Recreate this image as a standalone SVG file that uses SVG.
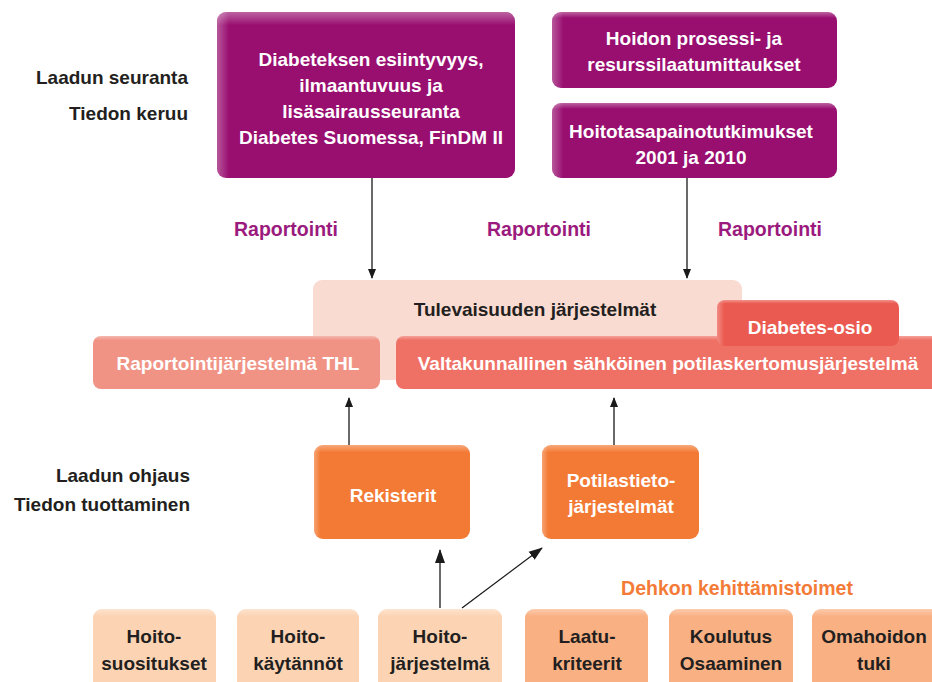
<svg xmlns="http://www.w3.org/2000/svg" width="932" height="682" viewBox="0 0 932 682">
<defs>
<linearGradient id="glossV" x1="0" y1="0" x2="0" y2="1">
<stop offset="0" stop-color="#fff" stop-opacity="0.35"/>
<stop offset="0.08" stop-color="#fff" stop-opacity="0"/>
<stop offset="1" stop-color="#fff" stop-opacity="0"/>
</linearGradient>
<linearGradient id="glossH" x1="0" y1="0" x2="1" y2="0">
<stop offset="0" stop-color="#fff" stop-opacity="0.3"/>
<stop offset="0.04" stop-color="#fff" stop-opacity="0"/>
<stop offset="1" stop-color="#fff" stop-opacity="0"/>
</linearGradient>
<marker id="ah" markerWidth="10" markerHeight="10" refX="9" refY="5" orient="auto" markerUnits="userSpaceOnUse" viewBox="0 0 10 10">
<path d="M0,1 L10,5 L0,9 Z" fill="#1a1a1a"/>
</marker>
<marker id="ah2" markerWidth="14" markerHeight="14" refX="13" refY="7" orient="auto" markerUnits="userSpaceOnUse" viewBox="0 0 14 14">
<path d="M0,2 L14,7 L0,12 Z" fill="#1a1a1a"/>
</marker>
</defs>
<style>
text{font-family:"Liberation Sans",Arial,sans-serif;font-weight:bold;}
.w{fill:#fff;font-size:19px;text-anchor:middle;}
.d{fill:#231f20;font-size:19px;text-anchor:middle;}
.lab{fill:#231f20;font-size:19px;text-anchor:end;}
.rap{fill:#9b1a7d;font-size:19.5px;text-anchor:middle;}
.purple{fill:#990f70;}
.org{fill:#f37a35;}
.lp{fill:#fcd4b4;}
.dp{fill:#f9b083;}
.conn line{stroke:#1a1a1a;stroke-width:1.3;}
</style>

<g id="labels">
<text class="lab" x="188" y="84">Laadun seuranta</text>
<text class="lab" x="188" y="120">Tiedon keruu</text>
<text class="lab" x="190" y="482">Laadun ohjaus</text>
<text class="lab" x="190" y="511">Tiedon tuottaminen</text>
<text class="rap" x="286" y="236">Raportointi</text>
<text class="rap" x="539" y="236">Raportointi</text>
<text class="rap" x="770" y="236">Raportointi</text>
<text x="737" y="595" style="fill:#f47b37;font-size:19.5px;text-anchor:middle">Dehkon kehittämistoimet</text>
</g>

<g id="esiintyvyys">
<rect class="purple" x="217" y="12" width="298" height="166" rx="9"/>
<rect x="217" y="12" width="298" height="166" rx="9" fill="url(#glossV)"/>
<rect x="217" y="12" width="298" height="166" rx="9" fill="url(#glossH)"/>
<text class="w" x="371" y="66">Diabeteksen esiintyvyys,</text>
<text class="w" x="371" y="92">ilmaantuvuus ja</text>
<text class="w" x="371" y="118">lisäsairausseuranta</text>
<text class="w" x="371" y="144">Diabetes Suomessa, FinDM II</text>
</g>

<g id="prosessi">
<rect class="purple" x="552" y="12" width="285" height="76" rx="9"/>
<rect x="552" y="12" width="285" height="76" rx="9" fill="url(#glossV)"/>
<rect x="552" y="12" width="285" height="76" rx="9" fill="url(#glossH)"/>
<text class="w" x="694" y="45">Hoidon prosessi- ja</text>
<text class="w" x="694" y="71">resurssilaatumittaukset</text>
</g>

<g id="hoitotasapaino">
<rect class="purple" x="552" y="103" width="285" height="75" rx="9"/>
<rect x="552" y="103" width="285" height="75" rx="9" fill="url(#glossV)"/>
<rect x="552" y="103" width="285" height="75" rx="9" fill="url(#glossH)"/>
<text class="w" x="691" y="138">Hoitotasapainotutkimukset</text>
<text class="w" x="691" y="164">2001 ja 2010</text>
</g>

<g id="tulevaisuus">
<rect x="313" y="280" width="429" height="100" rx="9" fill="#fadbd2"/>
<text class="d" x="535" y="316">Tulevaisuuden järjestelmät</text>
</g>

<g id="thl">
<rect x="93" y="336" width="287" height="53" rx="8" fill="#f09385"/>
<rect x="93" y="336" width="287" height="53" rx="8" fill="url(#glossV)"/>
<text class="w" x="238" y="370">Raportointijärjestelmä THL</text>
</g>

<g id="valtakunnallinen">
<rect x="396" y="336" width="546" height="53" rx="8" fill="#ef7166"/>
<rect x="396" y="336" width="546" height="53" rx="8" fill="url(#glossV)"/>
<text class="w" x="668" y="370">Valtakunnallinen sähköinen potilaskertomusjärjestelmä</text>
</g>

<g id="diabetesosio">
<rect x="717" y="300" width="182" height="46" rx="8" fill="#eb5a50"/>
<rect x="717" y="300" width="182" height="46" rx="8" fill="url(#glossV)"/>
<rect x="717" y="300" width="182" height="46" rx="8" fill="url(#glossH)"/>
<text class="w" x="810" y="334">Diabetes-osio</text>
</g>

<g id="rekisterit">
<rect class="org" x="314" y="445" width="156" height="94" rx="9"/>
<rect x="314" y="445" width="156" height="94" rx="9" fill="url(#glossV)"/>
<rect x="314" y="445" width="156" height="94" rx="9" fill="url(#glossH)"/>
<text class="w" x="393" y="502">Rekisterit</text>
</g>

<g id="potilastieto">
<rect class="org" x="542" y="445" width="157" height="94" rx="9"/>
<rect x="542" y="445" width="157" height="94" rx="9" fill="url(#glossV)"/>
<rect x="542" y="445" width="157" height="94" rx="9" fill="url(#glossH)"/>
<text class="w" x="621" y="487">Potilastieto-</text>
<text class="w" x="621" y="513">järjestelmät</text>
</g>

<g id="suositukset">
<rect class="lp" x="93" y="609" width="123" height="90" rx="9"/>
<rect x="93" y="609" width="123" height="90" rx="9" fill="url(#glossV)"/>
<text class="d" x="154" y="643">Hoito-</text>
<text class="d" x="154" y="670">suositukset</text>
</g>
<g id="kaytannot">
<rect class="lp" x="237" y="609" width="122" height="90" rx="9"/>
<rect x="237" y="609" width="122" height="90" rx="9" fill="url(#glossV)"/>
<text class="d" x="298" y="643">Hoito-</text>
<text class="d" x="298" y="670">käytännöt</text>
</g>
<g id="jarjestelma">
<rect class="lp" x="378" y="609" width="124" height="90" rx="9"/>
<rect x="378" y="609" width="124" height="90" rx="9" fill="url(#glossV)"/>
<text class="d" x="440" y="643">Hoito-</text>
<text class="d" x="440" y="670">järjestelmä</text>
</g>
<g id="laatukriteerit">
<rect class="dp" x="525" y="609" width="123" height="90" rx="9"/>
<rect x="525" y="609" width="123" height="90" rx="9" fill="url(#glossV)"/>
<text class="d" x="587" y="643">Laatu-</text>
<text class="d" x="587" y="670">kriteerit</text>
</g>
<g id="koulutus">
<rect class="dp" x="669" y="609" width="124" height="90" rx="9"/>
<rect x="669" y="609" width="124" height="90" rx="9" fill="url(#glossV)"/>
<text class="d" x="731" y="643">Koulutus</text>
<text class="d" x="731" y="670">Osaaminen</text>
</g>
<g id="omahoito">
<rect class="dp" x="812" y="609" width="140" height="90" rx="9"/>
<rect x="812" y="609" width="140" height="90" rx="9" fill="url(#glossV)"/>
<text class="d" x="874" y="643">Omahoidon</text>
<text class="d" x="874" y="670">tuki</text>
</g>

<g id="connectors" class="conn">
<line x1="372" y1="178" x2="372" y2="278" marker-end="url(#ah)"/>
<line x1="687" y1="178" x2="687" y2="278" marker-end="url(#ah)"/>
<line x1="349" y1="445" x2="349" y2="398" marker-end="url(#ah)"/>
<line x1="614" y1="445" x2="614" y2="398" marker-end="url(#ah)"/>
<line x1="440" y1="608" x2="440" y2="550" marker-end="url(#ah2)"/>
<line x1="462" y1="608" x2="542" y2="548" marker-end="url(#ah2)"/>
</g>
</svg>
